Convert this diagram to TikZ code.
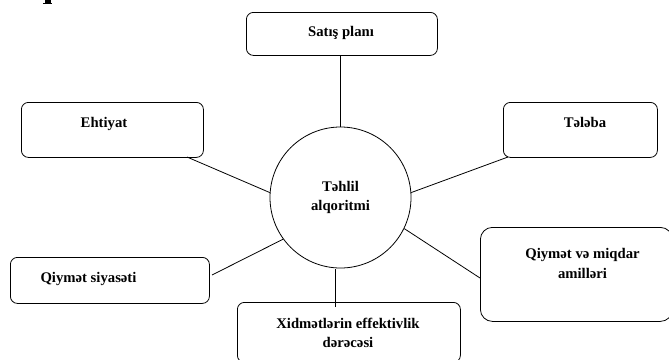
\documentclass[tikz,border=0pt]{standalone}
\usepackage{fontspec}
\setmainfont{Liberation Serif}
\tikzset{
  x=1pt,y=-1pt,
  box/.style={draw,line width=0.8pt,rounded corners=7pt,inner sep=0pt,anchor=north west},
  lbl/.style={font=\fontsize{14.7}{19.5}\selectfont\bfseries,align=center,inner sep=0pt},
  conn/.style={line width=0.8pt}
}
\begin{document}
\begin{tikzpicture}
\useasboundingbox (0,0) rectangle (669,359);
\begin{scope}
\clip (0,0) rectangle (669,359);
\node[box,minimum width=191pt,minimum height=43pt] (satis) at (246,12) {};
\node[box,minimum width=182pt,minimum height=55pt] (ehtiyat) at (21,102) {};
\node[box,minimum width=154pt,minimum height=55pt] (teleb) at (503,102) {};
\node[box,minimum width=199pt,minimum height=46pt] (siyaset) at (10,257) {};
\node[box,minimum width=223pt,minimum height=60pt] (xidmet) at (237,302) {};
\node[box,rounded corners=12pt,minimum width=192pt,minimum height=94pt] (miqdar) at (480,227) {};
\node[draw,circle,line width=0.8pt,minimum size=141pt,inner sep=0pt] (merkez) at (340.5,197.5) {};
\fill (45.2,0) rectangle (50.8,2.6);
\fill (43.4,2.6) rectangle (52,3.6);
\end{scope}
\node[lbl] (t1) at (341,33) {Satış planı};
\node[lbl] (t2) at (104,123.5) {Ehtiyat};
\node[lbl] (t3) at (585,122) {Tələba};
\node[lbl] (t4) at (88.5,278.5) {Qiymət siyasəti};
\node[lbl] (t5) at (348,333) {Xidmətlərin effektivlik\\dərəcəsi};
\node[lbl] (t6) at (582.5,263.5) {Qiymət və miqdar\\amilləri};
\node[lbl] (t7) at (340.5,197.5) {Təhlil\\alqoritmi};
\coordinate (e1) at (187,157);
\coordinate (e2) at (508,157);
\coordinate (e3) at (212,275);
\coordinate (e4) at (480,278);
\coordinate (e5) at (335,307);
\coordinate (e6) at (335,269);
\draw[conn] (satis.south -| merkez.north) -- (merkez.north);
\draw[conn] (e1) -- (merkez.176);
\draw[conn] (e2) -- (merkez.4);
\draw[conn] (e3) -- (merkez.216.5);
\draw[conn] (e4) -- (merkez.-26);
\draw[conn] (e5) -- (e6);
\end{tikzpicture}
\end{document}
